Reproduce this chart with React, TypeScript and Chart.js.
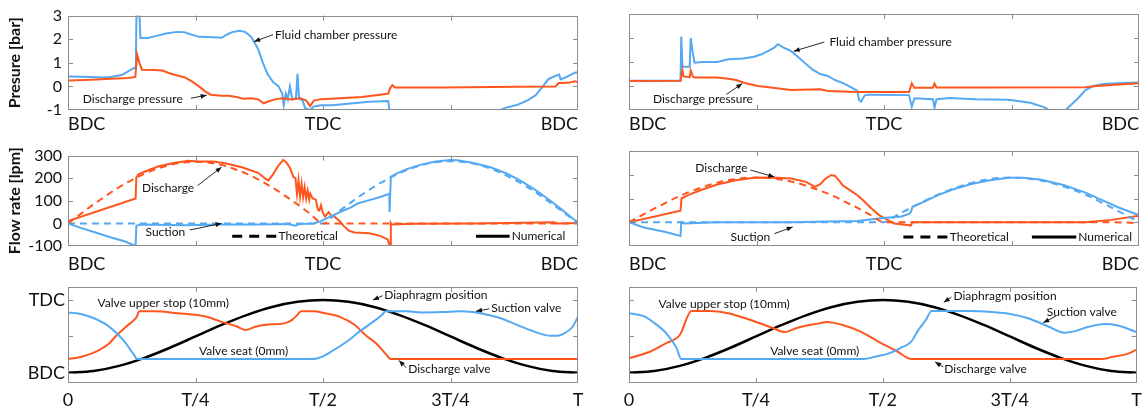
import React, { useEffect, useRef } from 'react';
import { Chart, registerables } from 'chart.js';

Chart.register(...registerables);
Chart.defaults.font.family = "Lato, 'DejaVu Sans', sans-serif";

type Pt = [number, number];

// ---------- tick values / labels ----------
const phaseTicks = [0, 0.25, 0.5, 0.75, 1];
const strokeLabels = ['BDC', '', 'TDC', '', 'BDC'];
const periodLabels = ['0', 'T/4', 'T/2', '3T/4', 'T'];
const pressureTicks = [-1, 0, 1, 2, 3];
const pressureLabels = ['-1', '0', '1', '2', '3'];
const flowTicks = [-100, 0, 100, 200, 300];
const flowLabels = ['-100', '0', '100', '200', '300'];
const positionTicks = [0, 0.5, 1];
const positionLabels = ['BDC', '', 'TDC'];

// ---------- pressure [bar], left ----------
const pressureL_fluid: Pt[] = [[0,0.42],[0.047,0.40],[0.069,0.38],[0.083,0.40],[0.105,0.48],[0.123,0.70],[0.130,0.78],[0.133,0.80],[0.1345,3.6],[0.139,3.6],[0.142,2.05],[0.156,2.05],[0.170,2.12],[0.192,2.24],[0.214,2.31],[0.228,2.30],[0.243,2.19],[0.257,2.10],[0.286,2.08],[0.301,2.06],[0.312,2.20],[0.322,2.30],[0.337,2.36],[0.348,2.30],[0.359,2.10],[0.366,1.85],[0.373,1.57],[0.382,1.01],[0.391,0.53],[0.402,0.18],[0.413,0.0],[0.420,-0.30],[0.423,-0.80],[0.427,-0.30],[0.431,-0.55],[0.435,0.0],[0.440,-0.55],[0.447,-0.50],[0.450,0.53],[0.453,-0.50],[0.460,-0.60],[0.465,-0.92],[0.475,-1.0],[0.482,-0.85],[0.496,-0.80],[0.518,-0.80],[0.554,-0.72],[0.591,-0.65],[0.628,-0.62],[0.630,-1.0],[0.848,-1.0],[0.859,-0.90],[0.880,-0.79],[0.902,-0.58],[0.917,-0.37],[0.931,0.0],[0.942,0.31],[0.953,0.42],[0.963,0.50],[0.966,0.30],[0.978,0.40],[0.986,0.50],[0.996,0.60],[1,0.56]];
const pressureL_discharge: Pt[] = [[0,0.25],[0.047,0.28],[0.083,0.32],[0.119,0.36],[0.132,0.40],[0.1355,1.36],[0.140,1.0],[0.145,0.71],[0.170,0.70],[0.185,0.67],[0.199,0.56],[0.214,0.46],[0.228,0.39],[0.243,0.21],[0.257,0.0],[0.268,-0.20],[0.280,-0.35],[0.301,-0.40],[0.315,-0.40],[0.330,-0.45],[0.344,-0.52],[0.359,-0.50],[0.373,-0.55],[0.384,-0.72],[0.391,-0.65],[0.406,-0.55],[0.420,-0.50],[0.438,-0.55],[0.456,-0.50],[0.467,-0.60],[0.475,-0.83],[0.482,-0.60],[0.496,-0.54],[0.533,-0.50],[0.576,-0.45],[0.612,-0.35],[0.628,-0.30],[0.632,-0.06],[0.636,0.05],[0.641,-0.05],[0.736,-0.05],[0.880,-0.02],[0.956,0.0],[0.962,0.14],[0.982,0.15],[0.993,0.22],[1,0.18]];

// ---------- pressure [bar], right ----------
const pressureR_fluid: Pt[] = [[0,0.22],[0.101,0.22],[0.1025,2.06],[0.1047,0.85],[0.107,0.80],[0.119,0.80],[0.121,2.0],[0.125,1.4],[0.1285,0.97],[0.144,1.0],[0.173,1.0],[0.195,1.11],[0.224,1.15],[0.245,1.22],[0.260,1.32],[0.274,1.47],[0.285,1.60],[0.292,1.74],[0.303,1.60],[0.318,1.45],[0.332,1.20],[0.347,0.92],[0.361,0.67],[0.375,0.50],[0.390,0.42],[0.404,0.25],[0.422,0.10],[0.440,-0.11],[0.448,-0.20],[0.451,-0.58],[0.455,-0.65],[0.462,-0.40],[0.469,-0.36],[0.549,-0.38],[0.5545,-0.86],[0.5596,-0.51],[0.596,-0.55],[0.599,-0.90],[0.603,-0.55],[0.628,-0.50],[0.679,-0.55],[0.744,-0.57],[0.787,-0.70],[0.816,-0.90],[0.823,-1.0],[0.856,-1.0],[0.866,-0.80],[0.881,-0.50],[0.895,-0.17],[0.910,0.0],[0.931,0.08],[0.968,0.12],[1,0.15]];
const pressureR_discharge: Pt[] = [[0,0.21],[0.101,0.22],[0.1025,0.40],[0.1047,0.67],[0.107,0.40],[0.119,0.37],[0.121,0.64],[0.125,0.40],[0.1285,0.35],[0.173,0.35],[0.195,0.30],[0.210,0.25],[0.231,0.10],[0.253,0.0],[0.282,-0.07],[0.318,-0.17],[0.375,-0.14],[0.390,-0.21],[0.448,-0.25],[0.549,-0.25],[0.5545,0.11],[0.5596,-0.07],[0.596,-0.07],[0.599,0.10],[0.603,-0.06],[0.679,-0.06],[0.895,-0.05],[0.917,0.0],[0.953,0.05],[1,0.11]];

// ---------- flow rate [lpm], left ----------
const flowL_dischargeNum: Pt[] = [[0,10],[0.1326,110],[0.134,203],[0.138,217],[0.156,234],[0.178,253],[0.207,267],[0.236,277],[0.257,274],[0.286,274],[0.315,263],[0.344,246],[0.373,224],[0.388,196],[0.393,190],[0.402,217],[0.413,257],[0.422,281],[0.428,270],[0.435,246],[0.442,206],[0.446,200],[0.449,130],[0.452,190],[0.455,120],[0.458,175],[0.461,115],[0.464,160],[0.467,110],[0.470,145],[0.473,105],[0.475,131],[0.480,110],[0.486,105],[0.490,60],[0.493,57],[0.496,80],[0.500,45],[0.504,30],[0.511,50],[0.516,35],[0.522,31],[0.533,10],[0.540,-10],[0.551,-33],[0.562,-40],[0.591,-44],[0.612,-55],[0.627,-71],[0.630,-95],[0.6315,-100],[0.633,0],[0.634,-5],[0.680,-2],[0.800,0],[0.953,5],[0.960,0],[1,2]];
const flowL_dischargeTheo: Pt[] = [[0,0],[0.025,42],[0.05,84],[0.075,123],[0.1,160],[0.125,192],[0.15,220],[0.175,242],[0.2,259],[0.225,269],[0.25,272],[0.275,269],[0.3,259],[0.325,242],[0.35,220],[0.375,192],[0.4,160],[0.425,123],[0.45,84],[0.475,42],[0.5,0],[1,0]];
const flowL_suctionNum: Pt[] = [[0,0],[0.025,-20],[0.054,-40],[0.083,-61],[0.112,-80],[0.130,-97],[0.1326,-97],[0.134,-11],[0.141,-5],[0.228,-8],[0.301,-5],[0.373,-5],[0.431,-3],[0.446,-10],[0.453,-3],[0.482,0],[0.496,10],[0.511,27],[0.525,41],[0.540,57],[0.554,70],[0.569,89],[0.591,103],[0.612,117],[0.627,129],[0.630,130],[0.6305,50],[0.633,206],[0.641,217],[0.663,239],[0.692,260],[0.721,274],[0.75,280],[0.764,279],[0.793,268],[0.830,247],[0.859,222],[0.888,188],[0.917,147],[0.946,100],[0.967,63],[0.986,28],[1,4]];
const flowL_suctionTheo: Pt[] = [[0,0],[0.5,0],[0.525,43],[0.55,85],[0.575,125],[0.6,162],[0.625,194],[0.65,222],[0.675,245],[0.7,262],[0.725,272],[0.75,275],[0.775,272],[0.8,262],[0.825,245],[0.85,222],[0.875,194],[0.9,162],[0.925,125],[0.95,85],[0.975,43],[1,0]];

// ---------- flow rate [lpm], right ----------
const flowR_dischargeNum: Pt[] = [[0,0],[0.101,49],[0.103,100],[0.1155,114],[0.144,138],[0.173,159],[0.209,177],[0.245,187],[0.282,188],[0.318,184],[0.347,170],[0.365,149],[0.375,160],[0.386,185],[0.397,199],[0.404,195],[0.412,175],[0.419,156],[0.433,135],[0.448,114],[0.462,86],[0.477,55],[0.491,29],[0.505,12],[0.520,-5],[0.549,-13],[0.552,-15],[0.556,0],[0.606,0],[0.895,0],[0.946,10],[1,27]];
const flowR_dischargeTheo: Pt[] = [[0,0],[0.025,29],[0.05,58],[0.075,85],[0.1,111],[0.125,133],[0.15,152],[0.175,168],[0.2,179],[0.225,186],[0.25,188],[0.275,186],[0.3,179],[0.325,168],[0.35,152],[0.375,133],[0.4,111],[0.425,85],[0.45,58],[0.475,29],[0.5,0],[0.95,0],[1,-4]];
const flowR_suctionNum: Pt[] = [[0,0],[0.029,-22],[0.072,-41],[0.101,-58],[0.1025,0],[0.108,-5],[0.173,0],[0.318,0],[0.390,3],[0.448,5],[0.477,13],[0.498,18],[0.534,24],[0.549,35],[0.552,40],[0.556,65],[0.578,86],[0.606,114],[0.635,138],[0.671,161],[0.708,177],[0.744,187],[0.773,187],[0.809,179],[0.852,157],[0.895,125],[0.931,90],[0.960,62],[0.982,44],[1,30]];
const flowR_suctionTheo: Pt[] = [[0,0],[0.5,0],[0.525,29],[0.55,58],[0.575,85],[0.6,111],[0.625,133],[0.65,152],[0.675,168],[0.7,179],[0.725,186],[0.75,188],[0.775,186],[0.8,179],[0.825,168],[0.85,152],[0.875,133],[0.9,111],[0.925,85],[0.95,58],[0.975,29],[1,0]];

// ---------- valve / diaphragm position ----------
const diaphragm: Pt[] = [[0,0],[0.05,0.024],[0.1,0.095],[0.15,0.206],[0.2,0.345],[0.25,0.5],[0.3,0.655],[0.35,0.794],[0.4,0.905],[0.45,0.976],[0.5,1],[0.55,0.976],[0.6,0.905],[0.65,0.794],[0.7,0.655],[0.75,0.5],[0.8,0.345],[0.85,0.206],[0.9,0.095],[0.95,0.024],[1,0]];
const valveL_suction: Pt[] = [[0,0.83],[0.02,0.815],[0.043,0.77],[0.06,0.72],[0.076,0.66],[0.096,0.54],[0.112,0.42],[0.122,0.32],[0.130,0.24],[0.1355,0.19],[0.482,0.19],[0.496,0.215],[0.518,0.30],[0.547,0.43],[0.572,0.57],[0.598,0.70],[0.616,0.80],[0.623,0.845],[0.663,0.845],[0.699,0.83],[0.735,0.835],[0.772,0.845],[0.808,0.82],[0.844,0.76],[0.880,0.66],[0.917,0.56],[0.946,0.51],[0.960,0.51],[0.975,0.55],[0.989,0.63],[1,0.77]];
const valveL_discharge: Pt[] = [[0,0.19],[0.02,0.21],[0.04,0.25],[0.06,0.31],[0.08,0.40],[0.096,0.52],[0.11,0.61],[0.125,0.70],[0.135,0.77],[0.139,0.845],[0.170,0.845],[0.214,0.82],[0.272,0.77],[0.301,0.70],[0.330,0.64],[0.348,0.59],[0.366,0.63],[0.388,0.66],[0.424,0.68],[0.438,0.72],[0.449,0.79],[0.457,0.845],[0.482,0.845],[0.504,0.82],[0.533,0.77],[0.562,0.66],[0.583,0.52],[0.605,0.40],[0.623,0.26],[0.633,0.19],[1,0.19]];
const valveR_suction: Pt[] = [[0,0.82],[0.029,0.78],[0.051,0.68],[0.074,0.54],[0.093,0.35],[0.103,0.19],[0.462,0.19],[0.484,0.22],[0.513,0.27],[0.534,0.34],[0.556,0.43],[0.570,0.59],[0.585,0.73],[0.596,0.85],[0.664,0.85],[0.715,0.835],[0.751,0.81],[0.786,0.75],[0.825,0.64],[0.858,0.55],[0.877,0.57],[0.904,0.63],[0.937,0.67],[0.963,0.65],[1,0.56]];
const valveR_discharge: Pt[] = [[0,0.20],[0.041,0.29],[0.074,0.41],[0.100,0.52],[0.123,0.85],[0.159,0.85],[0.195,0.82],[0.238,0.73],[0.282,0.62],[0.307,0.56],[0.332,0.62],[0.375,0.68],[0.390,0.70],[0.419,0.66],[0.455,0.57],[0.491,0.43],[0.527,0.30],[0.556,0.19],[0.931,0.19],[0.953,0.22],[0.982,0.26],[1,0.32]];

// ---------- styling ----------
const BLUE = '#55A8F2';
const ORANGE = '#FF551E';
const BLACK = '#000000';
const TEXT = '#111111';
const FRAME = '#8c8c8c';

type Series = { data: Pt[]; color: string; width: number; dash?: number[]; smooth?: boolean };
type Note = { text: string; x: number; y: number; arrow?: [number, number, number, number] };
type LegendItem = { x1: number; x2: number; y: number; dashed: boolean; text: string };
type Panel = {
  id: string; left: number; top: number; width: number; height: number;
  padTop: number; padRight: number; yWidth: number; xHeight: number;
  yMin: number; yMax: number; yTicks: number[]; yLabels: string[] | null; yFont: number; yPad: number;
  yTitle?: string; xLabels: string[]; xAlign: 'inner' | 'center'; xPad: number;
  series: Series[]; notes: Note[]; legend?: LegendItem[];
};

const colL = { left: 0, width: 600, yWidth: 68, padRight: 22 };
const colR = { left: 600, width: 548, yWidth: 29, padRight: 9 };
const rowTop = { top: 0, height: 140, padTop: 14, xHeight: 30, xPad: 3 };
const rowMid = { top: 140, height: 140, padTop: 11, xHeight: 34, xPad: 7 };
const rowBot = { top: 270, height: 141, padTop: 17, xHeight: 28, xPad: 6 };

const pressureScale = { yMin: -1, yMax: 3, yTicks: pressureTicks, yFont: 16, yPad: 6 };
const flowScale = { yMin: -100, yMax: 300, yTicks: flowTicks, yFont: 16, yPad: 6 };
const posScale = { yMin: -0.14, yMax: 1.18, yTicks: positionTicks, yFont: 18, yPad: 3 };

const legendL: LegendItem[] = [
  { x1: 0.322, x2: 0.409, y: -57, dashed: true, text: 'Theoretical' },
  { x1: 0.80, x2: 0.866, y: -57, dashed: false, text: 'Numerical' },
];
const legendR: LegendItem[] = [
  { x1: 0.538, x2: 0.625, y: -62, dashed: true, text: 'Theoretical' },
  { x1: 0.79, x2: 0.877, y: -62, dashed: false, text: 'Numerical' },
];

const panels: Panel[] = [
  {
    id: 'pl', ...colL, ...rowTop, ...pressureScale, yLabels: pressureLabels, yTitle: 'Presure [bar]',
    xLabels: strokeLabels, xAlign: 'inner',
    series: [
      { data: pressureL_discharge, color: ORANGE, width: 2 },
      { data: pressureL_fluid, color: BLUE, width: 2 },
    ],
    notes: [
      { text: 'Fluid chamber pressure', x: 0.406, y: 2.19, arrow: [0.402, 2.19, 0.365, 1.9] },
      { text: 'Discharge pressure', x: 0.029, y: -0.52, arrow: [0.241, -0.5, 0.272, -0.37] },
    ],
  },
  {
    id: 'pr', ...colR, ...rowTop, ...pressureScale, yLabels: null,
    xLabels: strokeLabels, xAlign: 'inner',
    series: [
      { data: pressureR_discharge, color: ORANGE, width: 2 },
      { data: pressureR_fluid, color: BLUE, width: 2 },
    ],
    notes: [
      { text: 'Fluid chamber pressure', x: 0.393, y: 1.81, arrow: [0.383, 1.83, 0.323, 1.45] },
      { text: 'Discharge pressure', x: 0.047, y: -0.56, arrow: [0.191, -0.35, 0.222, 0.1] },
    ],
  },
  {
    id: 'fl', ...colL, ...rowMid, ...flowScale, yLabels: flowLabels, yTitle: 'Flow rate [lpm]',
    xLabels: strokeLabels, xAlign: 'inner',
    series: [
      { data: flowL_dischargeTheo, color: ORANGE, width: 2, dash: [7, 5], smooth: true },
      { data: flowL_suctionTheo, color: BLUE, width: 2, dash: [7, 5], smooth: true },
      { data: flowL_suctionNum, color: BLUE, width: 2 },
      { data: flowL_dischargeNum, color: ORANGE, width: 2 },
    ],
    notes: [
      { text: 'Discharge', x: 0.145, y: 156, arrow: [0.254, 167, 0.301, 249] },
      { text: 'Suction', x: 0.152, y: -40, arrow: [0.239, -29, 0.301, 0] },
    ],
    legend: legendL,
  },
  {
    id: 'fr', ...colR, ...rowMid, ...flowScale, yLabels: null,
    xLabels: strokeLabels, xAlign: 'inner',
    series: [
      { data: flowR_dischargeTheo, color: ORANGE, width: 2, dash: [7, 5], smooth: true },
      { data: flowR_suctionTheo, color: BLUE, width: 2, dash: [7, 5], smooth: true },
      { data: flowR_suctionNum, color: BLUE, width: 2 },
      { data: flowR_dischargeNum, color: ORANGE, width: 2 },
    ],
    notes: [
      { text: 'Discharge', x: 0.13, y: 227, arrow: [0.238, 220, 0.285, 191] },
      { text: 'Suction', x: 0.199, y: -62, arrow: [0.285, -48, 0.321, -20] },
    ],
    legend: legendR,
  },
  {
    id: 'vl', ...colL, ...rowBot, ...posScale, yLabels: positionLabels,
    xLabels: periodLabels, xAlign: 'center',
    series: [
      { data: valveL_suction, color: BLUE, width: 2, smooth: true },
      { data: valveL_discharge, color: ORANGE, width: 2, smooth: true },
      { data: diaphragm, color: BLACK, width: 2.5, smooth: true },
    ],
    notes: [
      { text: 'Valve upper stop (10mm)', x: 0.058, y: 0.96 },
      { text: 'Valve seat (0mm)', x: 0.257, y: 0.305 },
      { text: 'Diaphragm position', x: 0.62, y: 1.07, arrow: [0.617, 1.06, 0.598, 1.0] },
      { text: 'Suction valve', x: 0.83, y: 0.89, arrow: [0.826, 0.88, 0.80, 0.846] },
      { text: 'Discharge valve', x: 0.667, y: 0.045, arrow: [0.663, 0.07, 0.649, 0.17] },
    ],
  },
  {
    id: 'vr', ...colR, ...rowBot, ...posScale, yLabels: null,
    xLabels: periodLabels, xAlign: 'center',
    series: [
      { data: valveR_suction, color: BLUE, width: 2, smooth: true },
      { data: valveR_discharge, color: ORANGE, width: 2, smooth: true },
      { data: diaphragm, color: BLACK, width: 2.5, smooth: true },
    ],
    notes: [
      { text: 'Valve upper stop (10mm)', x: 0.058, y: 0.94 },
      { text: 'Valve seat (0mm)', x: 0.278, y: 0.305 },
      { text: 'Diaphragm position', x: 0.639, y: 1.05, arrow: [0.635, 1.04, 0.62, 0.97] },
      { text: 'Suction valve', x: 0.823, y: 0.83, arrow: [0.841, 0.78, 0.816, 0.69] },
      { text: 'Discharge valve', x: 0.621, y: 0.045, arrow: [0.619, 0.08, 0.603, 0.15] },
    ],
  },
];

function drawArrow(ctx: CanvasRenderingContext2D, x1: number, y1: number, x2: number, y2: number) {
  ctx.beginPath();
  ctx.moveTo(x1, y1);
  ctx.lineTo(x2, y2);
  ctx.stroke();
  const a = Math.atan2(y2 - y1, x2 - x1);
  const L = 6, W = 2.4;
  ctx.beginPath();
  ctx.moveTo(x2, y2);
  ctx.lineTo(x2 - L * Math.cos(a) + W * Math.sin(a), y2 - L * Math.sin(a) - W * Math.cos(a));
  ctx.lineTo(x2 - L * Math.cos(a) - W * Math.sin(a), y2 - L * Math.sin(a) + W * Math.cos(a));
  ctx.closePath();
  ctx.fill();
}

function decorPlugin(p: Panel) {
  return {
    id: 'decor_' + p.id,
    afterDatasetsDraw(chart: any) {
      const { ctx, chartArea: ca, scales } = chart;
      const xs = scales.x, ys = scales.y;
      ctx.save();
      // frame and inward tick marks
      ctx.strokeStyle = FRAME;
      ctx.lineWidth = 1;
      ctx.beginPath();
      for (const t of xs.ticks) {
        const px = Math.round(xs.getPixelForValue(t.value)) + 0.5;
        if (px <= ca.left + 2 || px >= ca.right - 2) continue;
        ctx.moveTo(px, ca.bottom); ctx.lineTo(px, ca.bottom - 5);
        ctx.moveTo(px, ca.top); ctx.lineTo(px, ca.top + 5);
      }
      for (const t of ys.ticks) {
        const py = Math.round(ys.getPixelForValue(t.value)) + 0.5;
        if (py <= ca.top + 2 || py >= ca.bottom - 2) continue;
        ctx.moveTo(ca.left, py); ctx.lineTo(ca.left + 5, py);
        ctx.moveTo(ca.right, py); ctx.lineTo(ca.right - 5, py);
      }
      ctx.stroke();
      ctx.strokeRect(Math.round(ca.left) + 0.5, Math.round(ca.top) + 0.5, Math.round(ca.width) - 1, Math.round(ca.height) - 1);

      // annotations
      ctx.fillStyle = TEXT;
      ctx.strokeStyle = TEXT;
      ctx.font = '12px Lato';
      ctx.textAlign = 'left';
      ctx.textBaseline = 'middle';
      for (const n of p.notes) {
        ctx.fillText(n.text, xs.getPixelForValue(n.x), ys.getPixelForValue(n.y));
        if (n.arrow) {
          ctx.lineWidth = 0.9;
          drawArrow(ctx, xs.getPixelForValue(n.arrow[0]), ys.getPixelForValue(n.arrow[1]),
            xs.getPixelForValue(n.arrow[2]), ys.getPixelForValue(n.arrow[3]));
        }
      }
      // legend
      if (p.legend) {
        for (const l of p.legend) {
          const x1 = xs.getPixelForValue(l.x1), x2 = xs.getPixelForValue(l.x2), y = ys.getPixelForValue(l.y);
          ctx.save();
          ctx.strokeStyle = BLACK;
          ctx.lineWidth = 3;
          ctx.setLineDash(l.dashed ? [10, 7] : []);
          ctx.beginPath();
          ctx.moveTo(x1, y); ctx.lineTo(x2, y);
          ctx.stroke();
          ctx.restore();
          ctx.fillStyle = TEXT;
          ctx.font = '12px Lato';
          ctx.fillText(l.text, x2 + 2, y);
        }
      }
      ctx.restore();
    },
  };
}

function buildConfig(p: Panel): any {
  return {
    type: 'line',
    data: {
      datasets: p.series.map((s) => ({
        data: s.data.map(([x, y]) => ({ x, y })),
        borderColor: s.color,
        backgroundColor: s.color,
        borderWidth: s.width,
        borderDash: s.dash || [],
        pointRadius: 0,
        fill: false,
        cubicInterpolationMode: s.smooth ? 'monotone' : 'default',
        tension: 0,
      })),
    },
    options: {
      animation: false,
      responsive: false,
      maintainAspectRatio: false,
      events: [],
      layout: { padding: { top: p.padTop, right: p.padRight, left: 0, bottom: 0 } },
      plugins: { legend: { display: false }, tooltip: { enabled: false }, title: { display: false } },
      scales: {
        x: {
          type: 'linear', min: 0, max: 1,
          afterBuildTicks: (s: any) => { s.ticks = phaseTicks.map((v) => ({ value: v })); },
          afterFit: (s: any) => { s.height = p.xHeight; },
          grid: { display: false, drawTicks: false },
          border: { display: false },
          ticks: {
            autoSkip: false, maxRotation: 0, minRotation: 0, align: p.xAlign, padding: p.xPad,
            color: TEXT, font: { size: 18 },
            callback: (_v: any, i: number) => p.xLabels[i],
          },
        },
        y: {
          type: 'linear', min: p.yMin, max: p.yMax,
          afterBuildTicks: (s: any) => { s.ticks = p.yTicks.map((v) => ({ value: v })); },
          afterFit: (s: any) => { s.width = p.yWidth; },
          grid: { display: false, drawTicks: false },
          border: { display: false },
          ticks: {
            display: !!p.yLabels, padding: p.yPad, color: TEXT, font: { size: p.yFont },
            callback: (_v: any, i: number) => (p.yLabels ? p.yLabels[i] : ''),
          },
          title: p.yTitle
            ? { display: true, text: p.yTitle, color: TEXT, font: { size: 16, weight: 'bold' }, padding: { top: 5, bottom: 0 } }
            : { display: false },
        },
      },
    },
    plugins: [decorPlugin(p)],
  };
}

function PanelChart({ p }: { p: Panel }) {
  const ref = useRef<HTMLCanvasElement>(null);
  useEffect(() => {
    const chart = new Chart(ref.current as HTMLCanvasElement, buildConfig(p));
    return () => chart.destroy();
  }, [p]);
  return (
    <canvas
      ref={ref}
      width={p.width}
      height={p.height}
      style={{ position: 'absolute', left: p.left, top: p.top, width: p.width, height: p.height }}
    />
  );
}

export default function App() {
  return (
    <div style={{ position: 'absolute', left: 0, top: 0, width: 1148, height: 411, background: '#ffffff', overflow: 'hidden' }}>
      {panels.map((p) => (
        <PanelChart key={p.id} p={p} />
      ))}
    </div>
  );
}
